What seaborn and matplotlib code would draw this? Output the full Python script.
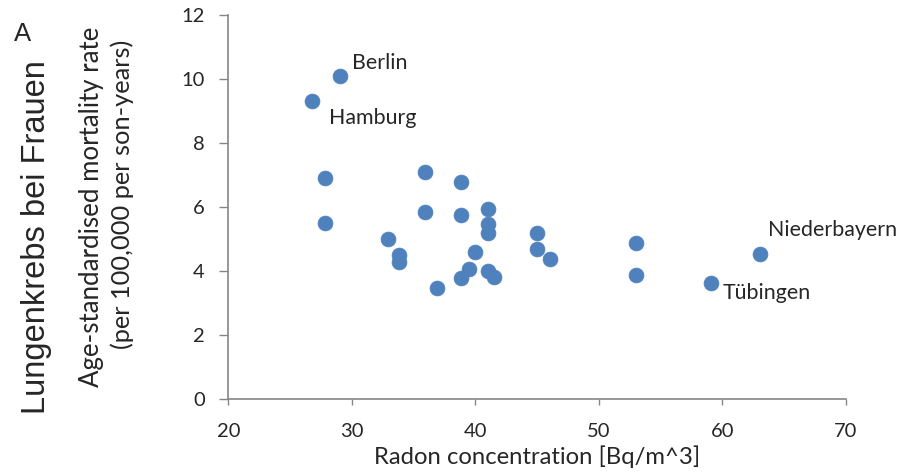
import matplotlib
matplotlib.use("Agg")
import matplotlib.pyplot as plt
import seaborn as sns
import pandas as pd

radon = [26.8, 29.0, 27.8, 27.8, 32.9, 33.8, 33.8, 35.9, 35.9, 36.9, 38.8, 38.8, 38.8,
         39.5, 40.0, 41.0, 41.0, 41.0, 41.0, 41.5, 45.0, 45.0, 46.0, 53.0, 53.0, 59.1, 63.0]
mortality = [9.31, 10.1, 6.9, 5.5, 5.0, 4.5, 4.28, 7.1, 5.84, 3.47, 6.78, 5.75, 3.78,
             4.06, 4.59, 5.94, 5.47, 5.19, 4.0, 3.81, 5.19, 4.69, 4.38, 4.88, 3.88, 3.63, 4.53]
labels = ["Hamburg", "Berlin", "", "", "", "", "", "", "", "", "", "", "",
          "", "", "", "", "", "", "", "", "", "", "", "", "Tübingen", "Niederbayern"]
x_ticks = [20, 30, 40, 50, 60, 70]
y_ticks = [0, 2, 4, 6, 8, 10, 12]
x_label = "Radon concentration [Bq/m^3]"
y_label_1 = "Age-standardised mortality rate"
y_label_2 = "(per 100,000 per son-years)"

df = pd.DataFrame({"radon": radon, "mortality": mortality, "label": labels})

sns.set_style("white")
plt.rcParams["font.family"] = ["Lato", "DejaVu Sans"]

W, H = 912, 473
fig = plt.figure(figsize=(W / 100, H / 100), dpi=100)
ax = fig.add_axes([228.5 / W, (H - 399) / H, (846 - 228.5) / W, (399 - 15) / H])

sns.scatterplot(data=df, x="radon", y="mortality", ax=ax, color="#4F81BD",
                s=115, edgecolor="#4F81BD", linewidth=0.5, legend=False, zorder=3,
                clip_on=False)

# text left edge / vertical centre offsets in pixels relative to the point
offsets = {"Berlin": (12, 13), "Hamburg": (17, -17), "Niederbayern": (8, 24), "Tübingen": (11, -10)}
for _, r in df.iterrows():
    if r["label"]:
        dx, dy = offsets[r["label"]]
        ax.annotate(r["label"], (r["radon"], r["mortality"]), xytext=(dx, dy),
                    textcoords="offset pixels", fontsize=15.4, color="#262626",
                    ha="left", va="center")

ax.set_xlim(20, 70)
ax.set_ylim(0, 12)
ax.set_xticks(x_ticks)
ax.set_yticks(y_ticks)
ax.tick_params(axis="x", labelsize=14.5, labelcolor="#262626", length=4, width=1,
               direction="out", bottom=True, pad=13, color="#868686")
ax.tick_params(axis="y", labelsize=14.5, labelcolor="#262626", length=6.5, width=1,
               direction="out", left=True, pad=10.5, color="#868686")
for s in ["top", "right"]:
    ax.spines[s].set_visible(False)
for s in ["left", "bottom"]:
    ax.spines[s].set_color("#868686")
    ax.spines[s].set_linewidth(1.2)

ax.set_xlabel(x_label, fontsize=17.2, color="#262626", labelpad=4)
ax.set_ylabel("")

fig.text(92 / W, 1 - 207 / H, y_label_1, fontsize=18.6, color="#262626",
         rotation=90, ha="center", va="center")
fig.text(122 / W, 1 - 194 / H, y_label_2, fontsize=18.3, color="#262626",
         rotation=90, ha="center", va="center")

fig.text(23 / W, 1 - 34 / H, "A", fontsize=18.5, family="Liberation Sans", ha="center", va="center")
fig.text(37 / W, 1 - 237 / H, "Lungenkrebs bei Frauen", fontsize=23.5, family="Liberation Sans",
         rotation=90, ha="center", va="center")

fig.savefig("out.png", dpi=100)
